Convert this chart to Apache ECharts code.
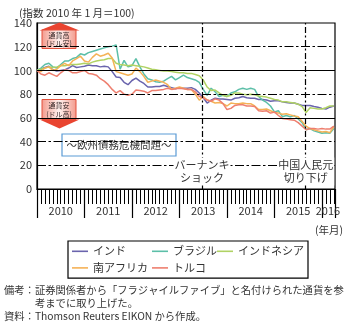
<!DOCTYPE html>
<html>
<head>
<meta charset="utf-8">
<script src="https://cdn.jsdelivr.net/npm/echarts@6/dist/echarts.min.js"></script>
<style>
html,body{margin:0;padding:0;background:#fff}
#chart{width:358px;height:326px}
</style>
</head>
<body>
<div id="chart"></div>
<script>
// Monthly exchange-rate indices against the US dollar (Jan 2010 = 100), Jan 2010 - Apr 2016
const months = [];
for (let y = 2010; y <= 2016; y++) {
  for (let m = 1; m <= 12; m++) {
    if (y === 2016 && m > 4) break;
    months.push(y + '/' + m);
  }
}

const india = [
  100, 101, 102.5, 103.5, 100.5, 99.5, 100, 100.5, 102, 104, 102.5, 103,
  103.5, 104.5, 104, 104, 103, 103.5, 103, 99, 94.5, 94, 90, 88,
  91.5, 93.5, 91, 89, 86, 86, 86.5, 86.5, 87.5, 86.5, 85.5, 84.5,
  85.5, 85, 85, 85.5, 84, 81, 77, 72.5, 75, 76.5, 76, 76,
  75.5, 75, 76.5, 77, 78, 77, 76.5, 76.5, 75.5, 75.5, 75, 74,
  74.5, 74.5, 73.5, 73, 72.5, 72.5, 71.5, 70.5, 70.5, 70.5, 69.5, 69,
  68, 67.5, 69, 70
];
const brazil = [
  100, 102, 105, 106, 103, 102, 105, 108, 108, 110, 111, 114,
  113, 115, 116, 117, 118, 119, 120, 120.5, 121.5, 101, 108.5, 103,
  104, 110, 103, 97, 93, 92, 90.5, 90, 91, 93, 95, 92,
  94, 96, 94, 93, 92, 90, 84, 79, 85, 82, 78, 79,
  78, 81, 82, 84, 85, 84, 85, 84, 78, 75, 73, 70,
  65, 66, 61, 62, 61, 62, 59, 56, 50, 51, 49, 48,
  47, 47.5, 47, 51
];
const indonesia = [
  100, 101, 102, 103, 102.5, 103, 104, 104, 104.5, 105, 105, 105.5,
  106, 105.5, 107, 108, 108.5, 109, 110, 110, 106, 105, 104.5, 104,
  104.5, 104, 103.5, 103, 102, 101, 100.5, 100, 99.5, 99.5, 99, 98.5,
  98, 98, 97.5, 97.5, 96.5, 95.5, 92, 86, 83, 83.5, 81, 79,
  78, 79, 81, 81, 80, 79.5, 80, 79.5, 78.5, 78, 77.5, 76.5,
  75.5, 75, 73.5, 73.5, 73, 72.5, 71.5, 69.5, 64.5, 68.5, 68, 67.5,
  67.5, 68.5, 70, 70
];
const southAfrica = [
  100, 99, 102, 103, 100, 101, 104, 106, 104, 108, 110, 112,
  108, 107, 111, 114, 112, 113, 114.5, 110.5, 99, 98, 97, 96,
  97, 102, 99, 95, 90, 91, 92, 91, 90, 88, 84, 85,
  86, 85, 84, 84, 80, 75, 78, 75, 74, 72.5, 73, 72,
  70, 72.5, 72, 72, 72.5, 72, 72, 70, 67, 67, 67.5, 66,
  64.5, 64, 63, 63.5, 62.5, 61.5, 61, 57, 53, 51, 50, 49,
  48, 48.5, 47.5, 52.5
];
const turkey = [
  100, 97, 96, 98, 96.5, 95, 98, 100.5, 100, 98, 98, 99,
  100, 97.5, 97, 96, 93, 91, 88, 84, 81, 83, 80, 79,
  80, 83.5, 83, 82.5, 81, 83, 83, 83.5, 84, 85, 84, 84.5,
  85, 84.5, 84, 84, 82, 78, 77, 75, 74, 76, 75, 72,
  67, 68, 70.5, 71, 71, 70, 70, 69.5, 66, 65.5, 66, 64,
  65, 62, 59.5, 59, 58.5, 58, 56, 53, 50, 51, 51, 50.5,
  51, 50.5, 50.5, 53
];

const seriesNames = ['インド', 'ブラジル', 'インドネシア', '南アフリカ', 'トルコ'];
const seriesValues = [india, brazil, indonesia, southAfrica, turkey];
const seriesColors = ['#6a64ad', '#5cbfa8', '#b0d264', '#f5b257', '#ee7f6f'];

// year labels sit in the middle of each year's span (in month units from Jan 2010)
const yearLabels = ['2010', '2011', '2012', '2013', '2014', '2015', '2016'];
const yearLabelPos = [6, 18, 30, 42, 54, 66, 73.5];

// horizontal reference lines
const solidLevels = [60, 100];
const dashLevels = [20, 40, 80, 120];

// events (position in months from Jan 2010) and their captions
const eventPos = [41.7, 67.9];
const eventText = ['バーナンキ\nショック', '中国人民元\n切り下げ'];
const eventTextLevel = 14.8;

const FF = '"Noto Sans CJK JP", "Noto Sans", sans-serif';
const TXT = '#333';
const MONTH_MAX = 75.3;
const DASH_DOT = [9, 2.5, 2.5, 2.5];

const chart = echarts.init(document.getElementById('chart'), null, { renderer: 'canvas' });

const lineSeries = seriesNames.map((name, k) => ({
  type: 'line',
  name: name,
  data: seriesValues[k].map((v, i) => [i, v]),
  symbol: 'none',
  xAxisIndex: 0,
  yAxisIndex: 0,
  z: 3,
  lineStyle: { width: 1.5, color: seriesColors[k] },
  itemStyle: { color: seriesColors[k] },
  emphasis: { disabled: true }
}));

const refSeries = {
  type: 'line',
  name: '__ref',
  data: [],
  z: 1,
  silent: true,
  markLine: {
    silent: true,
    symbol: 'none',
    animation: false,
    label: { show: false },
    data: [
      ...solidLevels.map(v => ({ yAxis: v, lineStyle: { color: '#000', width: 1.2, type: 'solid' } })),
      ...dashLevels.map(v => ({ yAxis: v, lineStyle: { color: '#000', width: 1.2, type: DASH_DOT } })),
      ...eventPos.map(v => ({ xAxis: v, lineStyle: { color: '#000', width: 1.2, type: [6, 2.5, 2, 2.5] } }))
    ]
  }
};

const eventSeries = {
  type: 'line',
  name: '__event',
  data: [],
  z: 4,
  silent: true,
  markPoint: {
    silent: true,
    animation: false,
    symbol: 'rect',
    symbolSize: 0,
    label: {
      show: true,
      position: 'inside',
      formatter: p => p.name,
      fontFamily: FF,
      fontSize: 11,
      lineHeight: 13,
      color: TXT,
      backgroundColor: '#fff',
      padding: [1, 1, 1, 1],
      align: 'center'
    },
    data: eventPos.map((x, i) => ({ name: eventText[i], coord: [x, eventTextLevel] }))
  }
};

function arrowBox(up, top, l1, l2) {
  const boxTop = up ? top + 7.5 : top;
  const boxH = up ? 18.5 : 20;
  const head = up
    ? [[39.5, boxTop + 0.5], [59.5, top], [79.5, boxTop + 0.5]]
    : [[39.5, boxTop + boxH], [79.5, boxTop + boxH], [59.5, boxTop + boxH + 9]];
  const fill = new echarts.graphic.LinearGradient(0, 0, 1, 0, [
    { offset: 0, color: '#f39a8c' },
    { offset: 0.5, color: '#fff1ee' },
    { offset: 1, color: '#f39a8c' }
  ]);
  return {
    type: 'group',
    z: 20,
    children: [
      { type: 'polygon', shape: { points: head }, style: { fill: '#e94430' } },
      { type: 'rect', shape: { x: 42, y: boxTop, width: 34, height: boxH },
        style: { fill: fill, stroke: '#e3503c', lineWidth: 1 } },
      { type: 'text', x: 59, y: boxTop + boxH * 0.3,
        style: { text: l1, font: '7px ' + FF, fill: '#3a2a2a', align: 'center', verticalAlign: 'middle' } },
      { type: 'text', x: 59, y: boxTop + boxH * 0.74,
        style: { text: l2, font: '7px ' + FF, fill: '#3a2a2a', align: 'center', verticalAlign: 'middle' } }
    ]
  };
}

const option = {
  animation: false,
  backgroundColor: '#fff',
  textStyle: { fontFamily: FF },
  grid: {
    left: 37, top: 23, width: 298, height: 166,
    show: true, borderColor: '#000', borderWidth: 1.2, backgroundColor: 'transparent'
  },
  xAxis: [
    {
      type: 'value', min: 0, max: MONTH_MAX, interval: 1, position: 'bottom', offset: 0,
      axisLine: { show: true, lineStyle: { color: '#000', width: 1.2 } },
      axisTick: { show: true, length: 15, lineStyle: { color: '#000', width: 1 } },
      axisLabel: { show: false }, splitLine: { show: false }
    },
    {
      type: 'value', min: 0, max: MONTH_MAX, interval: 12, position: 'bottom', offset: 0,
      axisLine: { show: false },
      axisTick: { show: true, length: 29, lineStyle: { color: '#000', width: 1.2 } },
      axisLabel: { show: false }, splitLine: { show: false }
    },
    {
      type: 'value', min: 0, max: MONTH_MAX, interval: 0.5, position: 'bottom', offset: 0,
      axisLine: { show: false }, axisTick: { show: false }, splitLine: { show: false },
      axisLabel: {
        show: true, margin: 16, fontSize: 11, color: TXT, fontFamily: FF,
        formatter: v => {
          const i = yearLabelPos.indexOf(v);
          return i >= 0 ? yearLabels[i] : '';
        }
      }
    }
  ],
  yAxis: {
    type: 'value', min: 0, max: 140, interval: 20,
    axisLine: { show: true, lineStyle: { color: '#000', width: 1.2 } },
    axisTick: { show: false },
    splitLine: { show: false },
    axisLabel: { fontSize: 11, color: TXT, margin: 5, fontFamily: FF }
  },
  title: {
    text: '(指数 2010 年 1 月＝100)',
    left: 14, top: 3,
    textStyle: { fontSize: 10.5, fontWeight: 'normal', color: TXT, fontFamily: FF }
  },
  legend: {
    left: 68, top: 241, width: 232,
    orient: 'horizontal',
    icon: 'rect', itemWidth: 16, itemHeight: 1.6, itemGap: 0,
    padding: [2, 4, 2, 4],
    borderColor: '#000', borderWidth: 1.2,
    selectedMode: false,
    textStyle: { fontSize: 11, color: TXT, lineHeight: 16.6, fontFamily: FF },
    data: [
      { name: 'インド', textStyle: { width: 59 } },
      { name: 'ブラジル', textStyle: { width: 44 } },
      { name: 'インドネシア' },
      { name: '南アフリカ', textStyle: { width: 59 } },
      { name: 'トルコ', textStyle: { width: 44 } }
    ]
  },
  graphic: [
    arrowBox(true, 22.5, '通貨高', '(ドル安)'),
    arrowBox(false, 99.5, '通貨安', '(ドル高)'),
    {
      type: 'group', z: 20,
      children: [
        { type: 'rect', shape: { x: 62, y: 134, width: 114, height: 22 },
          style: { fill: '#fff', stroke: '#5b9bd5', lineWidth: 1.2 } },
        { type: 'text', x: 119, y: 145.5,
          style: { text: '～欧州債務危機問題～', font: '10.5px ' + FF, fill: TXT, align: 'center', verticalAlign: 'middle' } }
      ]
    },
    { type: 'text', z: 20, x: 343, y: 230,
      style: { text: '(年月)', font: '10.5px ' + FF, fill: TXT, align: 'right', verticalAlign: 'middle' } },
    { type: 'text', z: 20, x: 4, y: 290,
      style: { text: '備考：証券関係者から「フラジャイルファイブ」と名付けられた通貨を参', font: '10.3px ' + FF, fill: TXT, align: 'left', verticalAlign: 'middle' } },
    { type: 'text', z: 20, x: 35, y: 303,
      style: { text: '考までに取り上げた。', font: '10.3px ' + FF, fill: TXT, align: 'left', verticalAlign: 'middle' } },
    { type: 'text', z: 20, x: 4, y: 316,
      style: { text: '資料：Thomson Reuters EIKON から作成。', font: '10.3px ' + FF, fill: TXT, align: 'left', verticalAlign: 'middle' } }
  ],
  series: [refSeries, ...lineSeries, eventSeries]
};

chart.setOption(option);
</script>
</body>
</html>
